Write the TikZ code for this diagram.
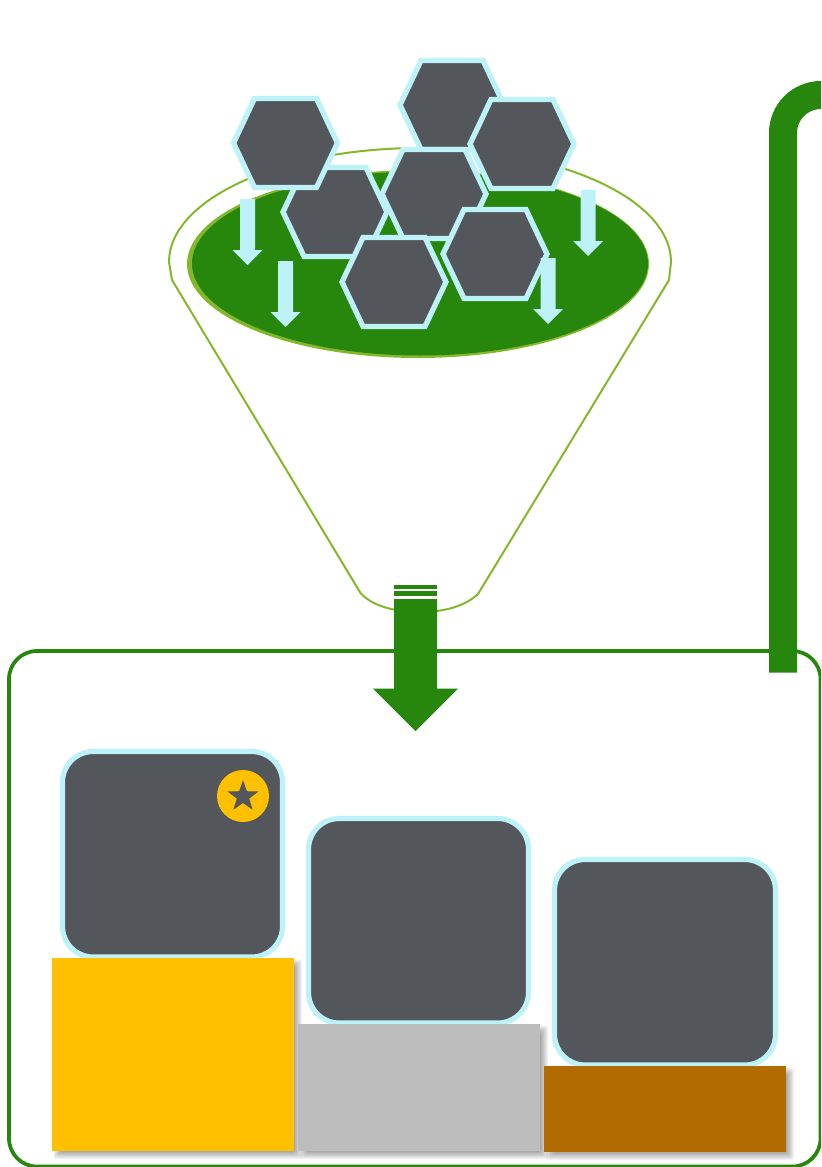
\documentclass[tikz,border=0pt]{standalone}
\usetikzlibrary{shapes.geometric}
\definecolor{darkfill}{HTML}{53565A}
\definecolor{icy}{HTML}{BDF2F8}
\definecolor{leaf}{HTML}{27860C}
\definecolor{olive}{HTML}{84B82B}
\definecolor{gold}{HTML}{FFC000}
\definecolor{silver}{HTML}{BDBDBD}
\definecolor{bronze}{HTML}{B26B00}
\tikzset{
  hexa/.style={draw=icy,fill=darkfill,line width=4pt,line join=miter},
  cardbox/.style={draw=icy,fill=darkfill,line width=3.9pt,rounded corners=23pt},
  funnelline/.style={draw=olive,line width=1.5pt,line join=round},
  iceshape/.style={fill=icy},
  leafshape/.style={fill=leaf}
}
\newcommand{\hexat}[2]{\draw[hexa] (#1-52,#2) -- (#1-31,#2-44.5) -- (#1+31,#2-44.5) -- (#1+52,#2) -- (#1+31,#2+44.5) -- (#1-31,#2+44.5) -- cycle;}
\newcommand{\downarrowat}[3]{\fill[iceshape] (#1-7.5,#2) -- (#1+7.5,#2) -- (#1+7.5,#3-15) -- (#1+15,#3-15) -- (#1,#3) -- (#1-15,#3-15) -- (#1-7.5,#3-15) -- cycle;}
\newcommand{\softshadow}[4]{%
  \foreach \g in {0,1,2,3,4,5,6,7,8}{%
    \fill[black,opacity=0.045,rounded corners=2pt] (#1+8-\g*0.8,#2+8-\g*0.8) rectangle (#3+1+\g*0.9,#4+1+\g*0.9);}%
}
\begin{document}
\begin{tikzpicture}[x=0.75pt,y=-0.75pt]
\useasboundingbox (0,0) rectangle (821,1167);
\clip (0,0) rectangle (821,1167);
% funnel
\draw[funnelline] (360.5,593) -- (172,280) -- (169,262) .. controls (169,199) and (281,148) .. (420,148) .. controls (559,148) and (671,199) .. (671,262) -- (669,280) -- (478,594) .. controls (465,606) and (445,612) .. (420,612) .. controls (395,612) and (372,606) .. (360.5,593) -- cycle;
% disc
\fill[olive] (418,264) ellipse [x radius=231, y radius=94];
\fill[leaf] (420,263.5) ellipse [x radius=228, y radius=92];
% container
\draw[leaf,line width=2.8pt,rounded corners=21pt] (9,651) rectangle (820.5,1166.5);
% thick connector
\draw[leaf,line width=21pt] (783,672.5) -- (783,133) .. controls (783,112) and (800,95) .. (821,95) -- (830,95);
% big arrow
\fill[leafshape] (394,585) rectangle (437,588.5);
\fill[leafshape] (394,590.5) rectangle (437,596);
\fill[leafshape] (394,599) -- (437,599) -- (437,688.5) -- (458,688.5) -- (415.5,731) -- (373,688.5) -- (394,688.5) -- cycle;
% hexagons
\hexat{452}{105}
\hexat{434}{194}
\hexat{522}{144}
\hexat{335}{212}
\hexat{285.5}{143}
\hexat{495}{254}
\hexat{394}{282}
% small arrows
\downarrowat{247.5}{199}{265}
\downarrowat{285.5}{261}{327}
\downarrowat{588}{190}{256}
\downarrowat{548}{258}{324}
% cards
\draw[cardbox] (62.5,751.5) rectangle (282.5,957);
\draw[cardbox] (308.5,818.5) rectangle (528.5,1023);
\draw[cardbox] (554.5,859.5) rectangle (775.5,1065);
% badge
\fill[gold] (243,796) circle [radius=26];
\node[star,star points=5,star point ratio=2.5,fill=darkfill,inner sep=0pt,minimum size=24.5pt] (badgestar) at (243,796.5) {};
% podiums
\softshadow{52}{958}{294}{1151}
\softshadow{298}{1024}{540}{1151}
\softshadow{544}{1066}{786}{1152}
\fill[gold] (52,958) rectangle (294,1151);
\fill[silver] (298,1024) rectangle (540,1151);
\fill[bronze] (544,1066) rectangle (786,1152);
\end{tikzpicture}
\end{document}
